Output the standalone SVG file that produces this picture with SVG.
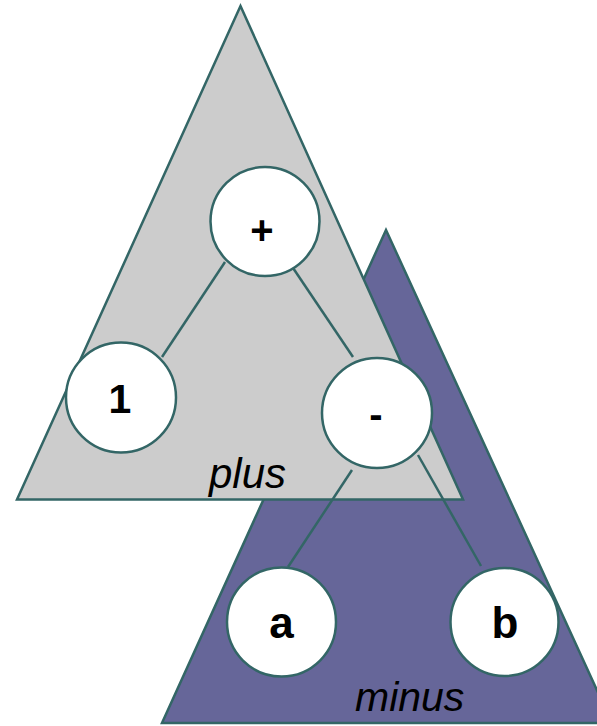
<svg xmlns="http://www.w3.org/2000/svg" width="597" height="726" viewBox="0 0 597 726">
<style>
.tri{stroke:#336666;stroke-width:2.5;stroke-linejoin:miter}
.node circle{fill:#ffffff;stroke:#336666;stroke-width:2.5}
.node text{font-family:"Liberation Sans",Arial,sans-serif;font-weight:bold;font-size:40px;text-anchor:middle;fill:#000}
.lbl{font-family:"Liberation Sans",Arial,sans-serif;font-style:italic;font-size:41px;fill:#000}
.edges line{stroke:#336666;stroke-width:2.5}
</style>
<rect width="597" height="726" fill="#ffffff"/>
<g id="minus-tree">
<polygon class="tri" points="386,230 162,723 612,723" fill="#666699"/>
<text class="lbl" x="355" y="711">minus</text>
</g>
<g id="plus-tree">
<polygon class="tri" points="240.5,6 17,499.5 463,499.5" fill="#cccccc"/>
<text class="lbl" x="209" y="488" style="font-size:42px">plus</text>
</g>
<g class="edges" id="connectors">
<line x1="225" y1="262" x2="162" y2="357"/>
<line x1="289" y1="262" x2="353" y2="357"/>
<line x1="352" y1="470" x2="288" y2="567"/>
<line x1="418" y1="455" x2="481" y2="566"/>
</g>
<g class="node" id="node-plus">
<circle cx="265" cy="221.5" r="54.5"/>
<text x="262" y="244">+</text>
</g>
<g class="node" id="node-1">
<circle cx="121" cy="397.5" r="55"/>
<text x="120" y="413" style="font-size:41px">1</text>
</g>
<g class="node" id="node-minus">
<circle cx="377" cy="413" r="55"/>
<text x="376" y="428">-</text>
</g>
<g class="node" id="node-a">
<circle cx="281.5" cy="622" r="54.5"/>
<text x="281.5" y="638" style="font-size:44px">a</text>
</g>
<g class="node" id="node-b">
<circle cx="504.5" cy="622" r="54"/>
<text x="505" y="638" style="font-size:44px">b</text>
</g>
</svg>
